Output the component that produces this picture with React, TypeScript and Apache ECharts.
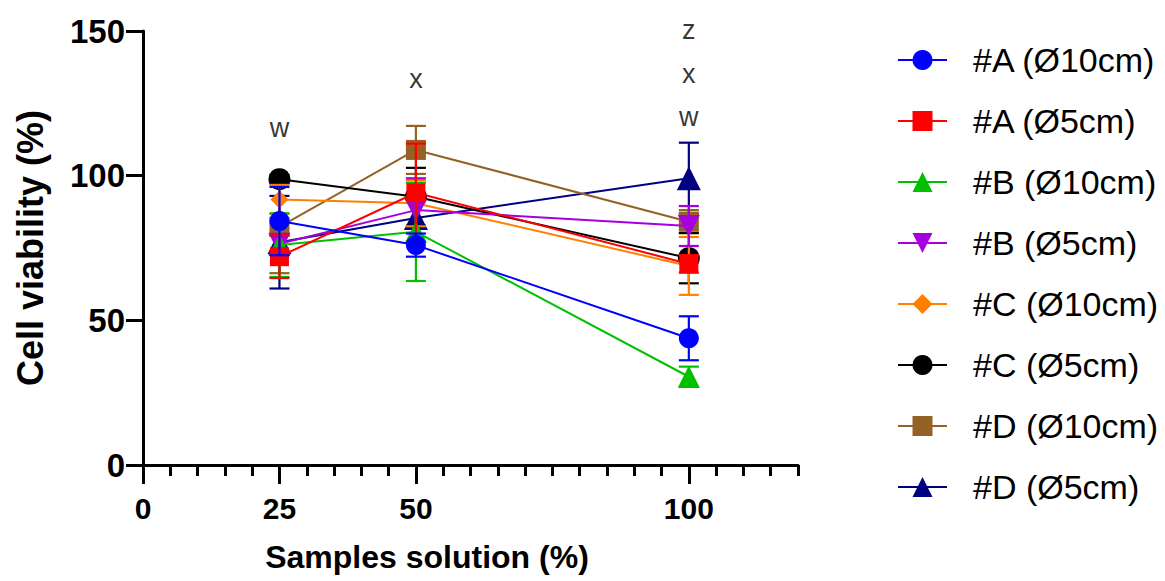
import React, { useEffect, useRef } from "react";
import * as echarts from "echarts";

const xValues = [25, 50, 100];
const seriesNames = [
  "#A (Ø10cm)",
  "#A (Ø5cm)",
  "#B (Ø10cm)",
  "#B (Ø5cm)",
  "#C (Ø10cm)",
  "#C (Ø5cm)",
  "#D (Ø10cm)",
  "#D (Ø5cm)",
];
const A10 = [84.3, 76.0, 43.8];
const A10sd = [11.8, 4.0, 7.6];
const A5 = [72.0, 94.1, 69.5];
const A5sd = [7.4, 17.0, 3.0];
const B10 = [76.0, 80.6, 30.5];
const B10sd = [11.0, 17.0, 3.5];
const B5 = [76.5, 88.1, 82.6];
const B5sd = [3.0, 11.0, 6.9];
const C10 = [91.8, 90.5, 68.8];
const C10sd = [5.0, 8.0, 10.0];
const C5 = [98.8, 92.7, 71.5];
const C5sd = [1.5, 10.0, 8.7];
const D10 = [82.3, 108.9, 84.1];
const D10sd = [16.0, 8.3, 4.0];
const D5 = [77.0, 85.4, 99.1];
const D5sd = [16.0, 8.0, 12.3];

const means = [A10, A5, B10, B5, C10, C5, D10, D5];
const sds = [A10sd, A5sd, B10sd, B5sd, C10sd, C5sd, D10sd, D5sd];

const colors = ["#0000FF", "#FF0000", "#00C000", "#A600E0", "#FF8000", "#000000", "#946224", "#000080"];
const symbols = [
  "circle",
  "rect",
  "triangle",
  "path://M0,0 L10,0 L5,9 Z",
  "diamond",
  "circle",
  "rect",
  "triangle",
];
const symbolSizes = [20, 19, 22, 22, 18, 22, 20, 24];

const xTickLabels = [0, 25, 50, 100];
const yTicks = { min: 0, max: 150, interval: 50 };

const annX = [25, 50, 100, 100, 100];
const annY = [116.5, 133.4, 120.3, 135.3, 150.4];
const annText = ["w", "x", "w", "x", "z"];

const FONT = "'Liberation Sans', Arial, Helvetica, sans-serif";

export default function App() {
  const ref = useRef<HTMLDivElement>(null);
  useEffect(() => {
    if (!ref.current) return;
    const chart = echarts.init(ref.current, null, { renderer: "svg" });
    const series: any[] = [];
    seriesNames.forEach((name, i) => {
      const color = colors[i];
      const baseZ = 60 - i * 3;
      series.push({
        type: "custom",
        name: name + " SD",
        xAxisIndex: 0,
        yAxisIndex: 0,
        z: baseZ - 1,
        silent: true,
        clip: false,
        encode: { x: 0, y: [1, 2] },
        data: xValues.map((x, j) => [x, means[i][j] - sds[i][j], means[i][j] + sds[i][j]]),
        renderItem: (params: any, api: any) => {
          const x = api.value(0);
          const lo = api.coord([x, api.value(1)]);
          const hi = api.coord([x, api.value(2)]);
          const hw = 10;
          const style = { stroke: color, lineWidth: 2.2, fill: null };
          return {
            type: "group",
            children: [
              { type: "line", shape: { x1: lo[0], y1: lo[1], x2: hi[0], y2: hi[1] }, style },
              { type: "line", shape: { x1: lo[0] - hw, y1: lo[1], x2: lo[0] + hw, y2: lo[1] }, style },
              { type: "line", shape: { x1: hi[0] - hw, y1: hi[1], x2: hi[0] + hw, y2: hi[1] }, style },
            ],
          };
        },
      });
      series.push({
        type: "line",
        name,
        xAxisIndex: 0,
        yAxisIndex: 0,
        z: baseZ,
        data: xValues.map((x, j) => [x, means[i][j]]),
        symbol: symbols[i],
        symbolSize: symbolSizes[i],
        showAllSymbol: true,
        lineStyle: { color, width: 2 },
        itemStyle: { color, opacity: 1 },
        emphasis: { disabled: true },
        clip: false,
      });
    });
    series.push({
      type: "scatter",
      name: "annotations",
      xAxisIndex: 0,
      yAxisIndex: 0,
      symbolSize: 0,
      clip: false,
      silent: true,
      data: annX.map((x, k) => ({ value: [x, annY[k]], label: { formatter: annText[k] } })),
      label: {
        show: true,
        position: "inside",
        fontFamily: FONT,
        fontSize: 27,
        color: "#000",
      },
    });

    chart.setOption({
      animation: false,
      backgroundColor: "#fff",
      grid: { left: 143, right: 367, top: 31, bottom: 116, containLabel: false },
      xAxis: [
        {
          type: "value",
          min: 0,
          max: 120,
          interval: 5,
          position: "bottom",
          axisLine: { show: true, onZero: false, lineStyle: { color: "#000", width: 3 } },
          axisTick: { show: true, length: 11, lineStyle: { color: "#000", width: 3 } },
          axisLabel: { show: false },
          splitLine: { show: false },
        },
        {
          type: "value",
          min: 0,
          max: 120,
          position: "bottom",
          axisLine: { show: false, onZero: false },
          axisTick: { show: true, length: 19, customValues: xTickLabels, lineStyle: { color: "#000", width: 3 } },
          axisLabel: {
            show: true,
            customValues: xTickLabels,
            margin: 28,
            fontFamily: FONT,
            fontWeight: "bold",
            fontSize: 30,
            color: "#000",
          },
          splitLine: { show: false },
        },
      ],
      yAxis: {
        type: "value",
        min: yTicks.min,
        max: yTicks.max,
        interval: yTicks.interval,
        axisLine: { show: true, onZero: false, lineStyle: { color: "#000", width: 3 } },
        axisTick: { show: true, length: 17, lineStyle: { color: "#000", width: 3 } },
        axisLabel: {
          margin: 18,
          fontFamily: FONT,
          fontWeight: "bold",
          fontSize: 33,
          color: "#000",
        },
        splitLine: { show: false },
      },
      legend: {
        data: seriesNames,
        orient: "vertical",
        left: 892,
        top: 37,
        itemWidth: 49,
        itemHeight: 25,
        itemGap: 25,
        selectedMode: false,
        textStyle: {
          fontFamily: FONT,
          fontSize: 34,
          lineHeight: 36,
          color: "#000",
          padding: [0, 0, 0, 21],
        },
      },
      graphic: [
        {
          type: "text",
          x: 30,
          y: 248,
          rotation: Math.PI / 2,
          style: {
            text: "Cell viability (%)",
            fontFamily: FONT,
            fontWeight: "bold",
            fontSize: 36,
            fill: "#000",
            textAlign: "center",
            textVerticalAlign: "middle",
          },
        },
        {
          type: "text",
          x: 427,
          y: 557,
          style: {
            text: "Samples solution (%)",
            fontFamily: FONT,
            fontWeight: "bold",
            fontSize: 32,
            fill: "#000",
            textAlign: "center",
            textVerticalAlign: "middle",
          },
        },
      ],
      series,
    });
    return () => chart.dispose();
  }, []);
  return (
    <div
      ref={ref}
      style={{ position: "fixed", left: 0, top: 0, width: 1165, height: 581, background: "#fff" }}
    />
  );
}
